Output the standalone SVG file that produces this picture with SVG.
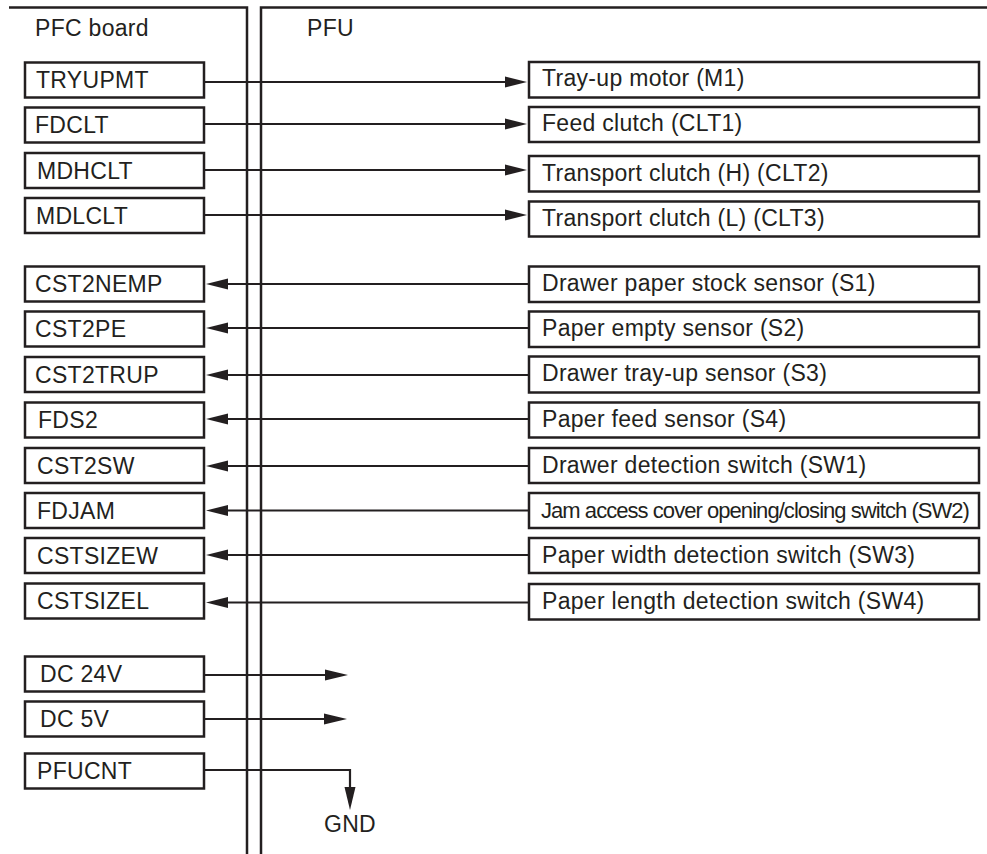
<svg xmlns="http://www.w3.org/2000/svg" width="987" height="854" viewBox="0 0 987 854">
<style>
.frame{fill:none;stroke:#231f20;stroke-width:2.5}
.box{fill:#fff;stroke:#231f20;stroke-width:2.5}
.ln{fill:none;stroke:#231f20;stroke-width:2.2}
.ah{fill:#231f20;stroke:none}
text{font-family:"Liberation Sans",Arial,Helvetica,sans-serif;font-size:23px;letter-spacing:0.3px;fill:#231f20}
.cond{font-size:22px;letter-spacing:-0.95px}
</style>
<rect width="987" height="854" fill="#fff"/>
<g id="frame">
<polyline class="frame" points="9,7.5 247,7.5 247,854"/>
<polyline class="frame" points="261,854 261,7.5 987,7.5"/>
<text x="35" y="36">PFC board</text>
<text x="307" y="36">PFU</text>
</g>
<g id="connectors">
<path class="ln" d="M204,82H506M204,124H506M204,170H506M204,215H506"/>
<polygon class="ah" points="527,82 505,76.5 505,87.5"/>
<polygon class="ah" points="527,124 505,118.5 505,129.5"/>
<polygon class="ah" points="527,170 505,164.5 505,175.5"/>
<polygon class="ah" points="527,215 505,209.5 505,220.5"/>
<path class="ln" d="M529,284H226M529,328H226M529,375H226M529,419H226M529,466H226M529,510.5H226M529,555H226M529,602.5H226"/>
<polygon class="ah" points="206,284 228,278.5 228,289.5"/>
<polygon class="ah" points="206,328 228,322.5 228,333.5"/>
<polygon class="ah" points="206,375 228,369.5 228,380.5"/>
<polygon class="ah" points="206,419 228,413.5 228,424.5"/>
<polygon class="ah" points="206,466 228,460.5 228,471.5"/>
<polygon class="ah" points="206,510.5 228,505 228,516"/>
<polygon class="ah" points="206,555 228,549.5 228,560.5"/>
<polygon class="ah" points="206,602.5 228,597 228,608"/>
<path class="ln" d="M204,675H327M204,719H326M204,770H350V788"/>
<polygon class="ah" points="348,675 325,669.5 325,680.5"/>
<polygon class="ah" points="347,719 324,713.5 324,724.5"/>
<polygon class="ah" points="350,810 344.5,787 355.5,787"/>
</g>
<g id="n-tryupmt"><rect class="box" x="25" y="62.5" width="179" height="35"/><text x="36" y="88">TRYUPMT</text></g>
<g id="n-fdclt"><rect class="box" x="25" y="107.5" width="179" height="35"/><text x="35" y="133">FDCLT</text></g>
<g id="n-mdhclt"><rect class="box" x="25" y="153" width="179" height="35"/><text x="37" y="178.5">MDHCLT</text></g>
<g id="n-mdlclt"><rect class="box" x="25" y="198" width="179" height="35"/><text x="36" y="223.5">MDLCLT</text></g>
<g id="n-cst2nemp"><rect class="box" x="25" y="266.5" width="179" height="35"/><text x="35" y="292">CST2NEMP</text></g>
<g id="n-cst2pe"><rect class="box" x="25" y="311.5" width="179" height="35"/><text x="35" y="337">CST2PE</text></g>
<g id="n-cst2trup"><rect class="box" x="25" y="357" width="179" height="35"/><text x="35" y="382.5">CST2TRUP</text></g>
<g id="n-fds2"><rect class="box" x="25" y="402.5" width="179" height="35"/><text x="38" y="428">FDS2</text></g>
<g id="n-cst2sw"><rect class="box" x="25" y="448" width="179" height="35"/><text x="37" y="473.5">CST2SW</text></g>
<g id="n-fdjam"><rect class="box" x="25" y="493" width="179" height="35"/><text x="37" y="518.5">FDJAM</text></g>
<g id="n-cstsizew"><rect class="box" x="25" y="538" width="179" height="35"/><text x="37" y="563.5">CSTSIZEW</text></g>
<g id="n-cstsizel"><rect class="box" x="25" y="583.5" width="179" height="35"/><text x="37" y="609">CSTSIZEL</text></g>
<g id="n-dc24v"><rect class="box" x="25" y="656.5" width="179" height="35"/><text x="40" y="682">DC 24V</text></g>
<g id="n-dc5v"><rect class="box" x="25" y="701.5" width="179" height="35"/><text x="40" y="727">DC 5V</text></g>
<g id="n-pfucnt"><rect class="box" x="25" y="753.5" width="179" height="35"/><text x="37" y="779">PFUCNT</text></g>
<g id="n-m1"><rect class="box" x="529" y="62" width="450" height="35.5"/><text x="542" y="85.5">Tray-up motor (M1)</text></g>
<g id="n-clt1"><rect class="box" x="529" y="107" width="450" height="35"/><text x="542" y="130.5">Feed clutch (CLT1)</text></g>
<g id="n-clt2"><rect class="box" x="529" y="156" width="450" height="35.5"/><text x="542" y="180.5">Transport clutch (H) (CLT2)</text></g>
<g id="n-clt3"><rect class="box" x="529" y="201.5" width="450" height="35"/><text x="542" y="226">Transport clutch (L) (CLT3)</text></g>
<g id="n-s1"><rect class="box" x="529" y="266.5" width="450" height="35.5"/><text x="542" y="290.5">Drawer paper stock sensor (S1)</text></g>
<g id="n-s2"><rect class="box" x="529" y="311.5" width="450" height="35.5"/><text x="542" y="335.5">Paper empty sensor (S2)</text></g>
<g id="n-s3"><rect class="box" x="529" y="356.5" width="450" height="36"/><text x="542" y="380.5">Drawer tray-up sensor (S3)</text></g>
<g id="n-s4"><rect class="box" x="529" y="402.5" width="450" height="35"/><text x="542" y="426.5">Paper feed sensor (S4)</text></g>
<g id="n-sw1"><rect class="box" x="529" y="448" width="450" height="35"/><text x="542" y="472.5">Drawer detection switch (SW1)</text></g>
<g id="n-sw2"><rect class="box" x="529" y="493" width="450" height="35"/><text class="cond" x="541" y="517.5">Jam access cover opening/closing switch (SW2)</text></g>
<g id="n-sw3"><rect class="box" x="529" y="538" width="450" height="35"/><text x="542" y="562.5">Paper width detection switch (SW3)</text></g>
<g id="n-sw4"><rect class="box" x="529" y="584" width="450" height="35.5"/><text x="542" y="608.5">Paper length detection switch (SW4)</text></g>
<g id="n-gnd"><text x="324" y="832">GND</text></g>
</svg>
